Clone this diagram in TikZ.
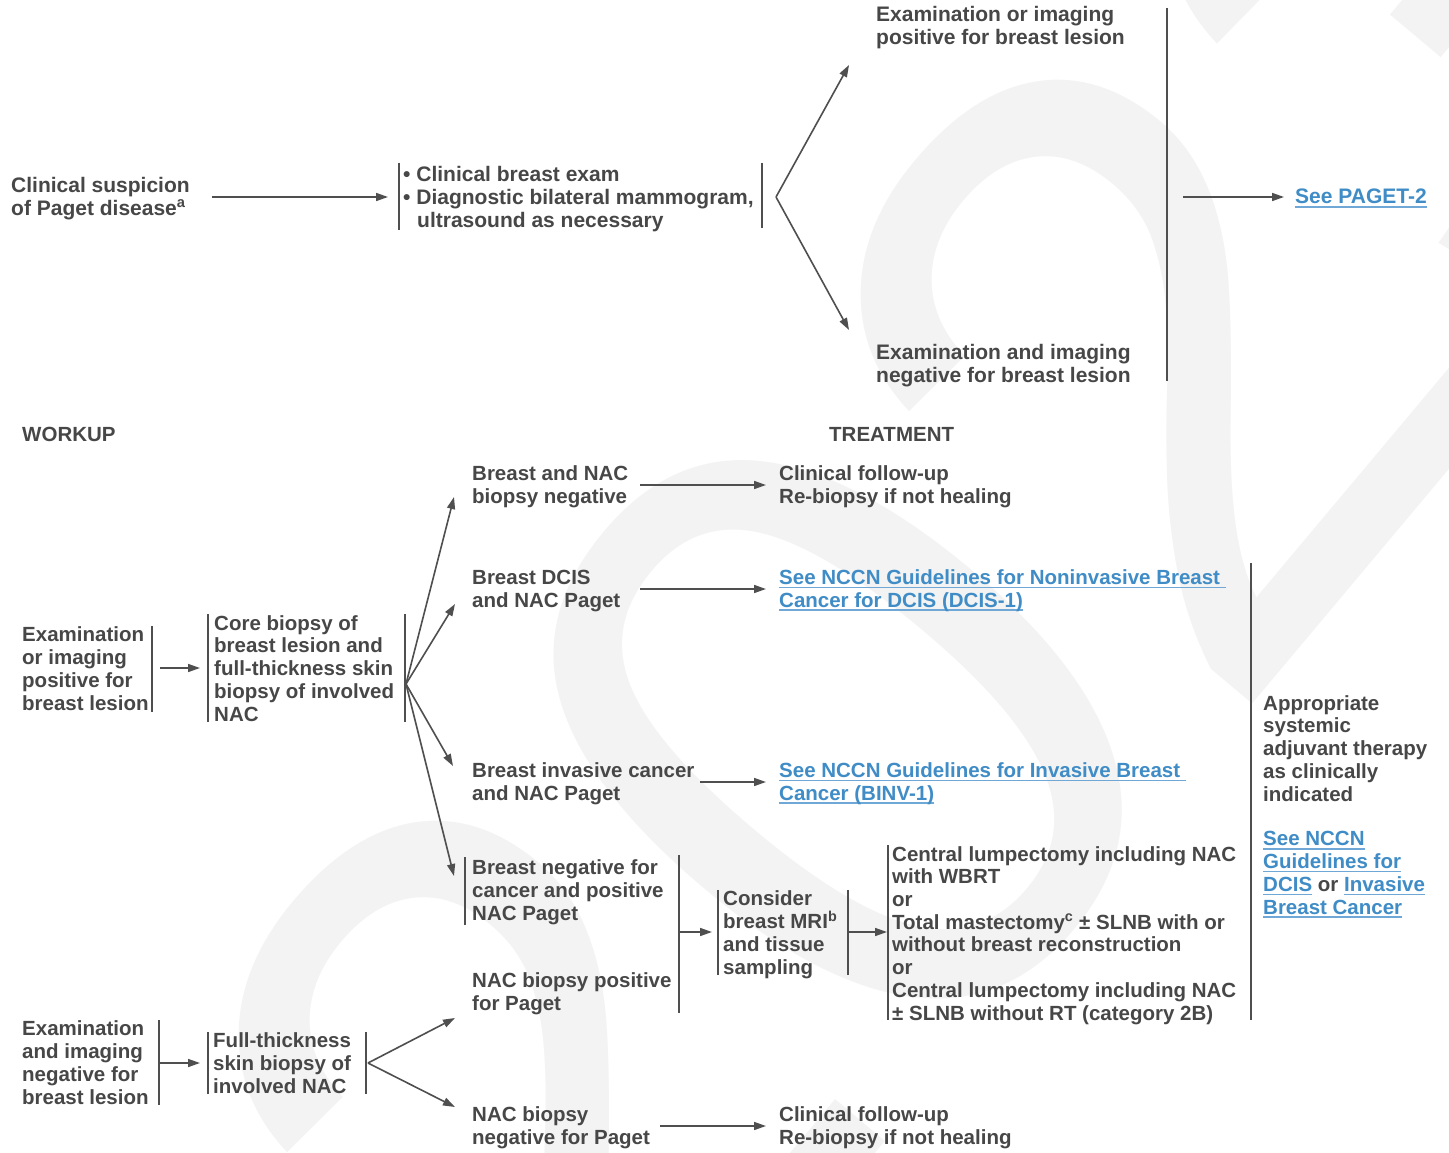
\documentclass[tikz,border=0pt]{standalone}
\usepackage{fontspec}
\setmainfont{Liberation Sans}
\usetikzlibrary{arrows.meta}
\definecolor{tc}{HTML}{474747}
\definecolor{lnc}{HTML}{4F4F4F}
\definecolor{lc}{HTML}{3F8CC6}
\definecolor{ulc}{HTML}{6FA8D6}
\definecolor{wm}{HTML}{F3F3F3}
\newsavebox\myulbox
\newcommand\myul[1]{\sbox\myulbox{#1}\rlap{\color{ulc}\rule[-3.6pt]{\wd\myulbox}{1.4pt}}\usebox\myulbox}
\begin{document}
\begin{tikzpicture}[x=1pt,y=-1pt,
  t/.style={font=\fontsize{20.5}{22.7}\selectfont\bfseries, text=tc, align=left, inner sep=0pt, anchor=base west},
  tt/.style={t, font=\fontsize{21}{23}\selectfont\bfseries},
  lk/.style={t, text=lc},
  ln/.style={draw=lnc, line width=1.6pt},
  ar/.style={ln, -{Triangle[length=12pt,width=8pt]}}]
\useasboundingbox (0,0) rectangle (1449,1153);
\fill[white] (0,0) rectangle (1449,1153);
\begin{scope}
\clip (0,0) rectangle (1449,1153);
\node[text=wm, font=\fontsize{870}{870}\selectfont, rotate=50, inner sep=0pt] (wmk) at (995,545) {2023};
\end{scope}

% ---------- top ----------
\node[tt] (cs) at (11,215) {Clinical suspicion\\of Paget disease\textsuperscript{a}};
\coordinate (cs1) at (212,197); \coordinate (cs2) at (388,197);
\draw[ar] (cs1) -- (cs2);
\coordinate (ex1) at (399,163); \coordinate (ex2) at (399,230);
\coordinate (ex3) at (762,163); \coordinate (ex4) at (762,228);
\draw[ln] (ex1) -- (ex2); \draw[ln] (ex3) -- (ex4);
\node[tt] (ex) at (403,227) {• Clinical breast exam\\• Diagnostic bilateral mammogram,\\\hspace*{14pt}ultrasound as necessary};
\coordinate (chv) at (776,197);
\coordinate (chu) at (849,65); \coordinate (chd) at (849,330);
\draw[ar] (chv) -- (chu);
\draw[ar] (chv) -- (chd);
\node[tt] (pos) at (876,45) {Examination or imaging\\positive for breast lesion};
\node[tt] (neg) at (876,382) {Examination and imaging\\negative for breast lesion};
\coordinate (vt1) at (1167,8); \coordinate (vt2) at (1167,381);
\draw[ln] (vt1) -- (vt2);
\coordinate (pg1) at (1183,197); \coordinate (pg2) at (1284,197);
\draw[ar] (pg1) -- (pg2);
\node[tt, text=lc] (pg) at (1295,204) {\myul{See PAGET-2}};

% ---------- headers ----------
\node[t] (wu) at (22,441) {WORKUP};
\node[t] (tr) at (829,441) {TREATMENT};

% ---------- positive branch ----------
\node[t] (eip) at (22,710) {Examination\\or imaging\\positive for\\breast lesion};
\coordinate (e1) at (152,626); \coordinate (e2) at (152,712);
\draw[ln] (e1) -- (e2);
\coordinate (a1) at (160,668); \coordinate (a2) at (200,668);
\draw[ar] (a1) -- (a2);
\coordinate (c1) at (208,614); \coordinate (c2) at (208,722);
\coordinate (c3) at (405,614); \coordinate (c4) at (405,722);
\draw[ln] (c1) -- (c2); \draw[ln] (c3) -- (c4);
\node[t] (core) at (214,721) {Core biopsy of\\breast lesion and\\full-thickness skin\\biopsy of involved\\NAC};
\coordinate (fan) at (406,684);
\coordinate (f1) at (454,497); \coordinate (f2) at (455,604);
\coordinate (f3) at (453,766); \coordinate (f4) at (454,876);
\draw[ar] (fan) -- (f1); \draw[ar] (fan) -- (f2);
\draw[ar] (fan) -- (f3); \draw[ar] (fan) -- (f4);

\node[t] (bn) at (472,503) {Breast and NAC\\biopsy negative};
\coordinate (b1) at (640,485); \coordinate (b2) at (766,485);
\draw[ar] (b1) -- (b2);
\node[t] (cf1) at (779,503) {Clinical follow-up\\Re-biopsy if not healing};

\node[t] (dcis) at (472,607) {Breast DCIS\\and NAC Paget};
\coordinate (d1) at (640,589); \coordinate (d2) at (766,589);
\draw[ar] (d1) -- (d2);
\node[lk] (ldcis) at (779,607) {\myul{See NCCN Guidelines for Noninvasive Breast\ }\\\myul{Cancer for DCIS (DCIS-1)}};

\node[t] (inv) at (472,800) {Breast invasive cancer\\and NAC Paget};
\coordinate (i1) at (700,782); \coordinate (i2) at (766,782);
\draw[ar] (i1) -- (i2);
\node[lk] (linv) at (779,800) {\myul{See NCCN Guidelines for Invasive Breast\ }\\\myul{Cancer (BINV-1)}};

\coordinate (bg1) at (465,857); \coordinate (bg2) at (465,925);
\draw[ln] (bg1) -- (bg2);
\node[t] (bneg) at (472,920) {Breast negative for\\cancer and positive\\NAC Paget};
\node[t] (nacp) at (472,1010) {NAC biopsy positive\\for Paget};
\coordinate (m1) at (679,855); \coordinate (m2) at (679,1013);
\draw[ln] (m1) -- (m2);
\coordinate (m3) at (679,932); \coordinate (m4) at (712,932);
\draw[ar] (m3) -- (m4);
\coordinate (r1) at (718,890); \coordinate (r2) at (718,975);
\coordinate (r3) at (848,890); \coordinate (r4) at (848,975);
\draw[ln] (r1) -- (r2); \draw[ln] (r3) -- (r4);
\node[t] (mri) at (723,974) {Consider\\breast MRI\textsuperscript{b}\\and tissue\\sampling};
\coordinate (s1) at (848,932); \coordinate (s2) at (887,932);
\draw[ar] (s1) -- (s2);
\coordinate (g1) at (888,845); \coordinate (g2) at (888,1020);
\draw[ln] (g1) -- (g2);
\node[t] (surg) at (892,1020) {Central lumpectomy including NAC\\with WBRT\\or\\Total mastectomy\textsuperscript{c} ± SLNB with or\\without breast reconstruction\\or\\Central lumpectomy including NAC\\± SLNB without RT (category 2B)};
\coordinate (v1) at (1251,563); \coordinate (v2) at (1251,1020);
\draw[ln] (v1) -- (v2);
\node[t] (adj) at (1263,801) {Appropriate\\systemic\\adjuvant therapy\\as clinically\\indicated};
\node[lk] (ladj) at (1263,914) {\myul{See NCCN}\\\myul{Guidelines for}\\\myul{DCIS} {\color{tc}or} \myul{Invasive}\\\myul{Breast Cancer}};

% ---------- negative branch ----------
\node[t] (ein) at (22,1104) {Examination\\and imaging\\negative for\\breast lesion};
\coordinate (n1) at (159,1020); \coordinate (n2) at (159,1105);
\draw[ln] (n1) -- (n2);
\coordinate (na1) at (160,1063); \coordinate (na2) at (200,1063);
\draw[ar] (na1) -- (na2);
\coordinate (ft1) at (208,1032); \coordinate (ft2) at (208,1094);
\coordinate (ft3) at (366,1032); \coordinate (ft4) at (366,1094);
\draw[ln] (ft1) -- (ft2); \draw[ln] (ft3) -- (ft4);
\node[t] (ft) at (213,1093) {Full-thickness\\skin biopsy of\\involved NAC};
\coordinate (fv) at (368,1063);
\coordinate (fu) at (455,1018); \coordinate (fd) at (455,1107);
\draw[ar] (fv) -- (fu); \draw[ar] (fv) -- (fd);
\node[t] (nacn) at (472,1144) {NAC biopsy\\negative for Paget};
\coordinate (k1) at (660,1126); \coordinate (k2) at (766,1126);
\draw[ar] (k1) -- (k2);
\node[t] (cf2) at (779,1144) {Clinical follow-up\\Re-biopsy if not healing};
\end{tikzpicture}
\end{document}
